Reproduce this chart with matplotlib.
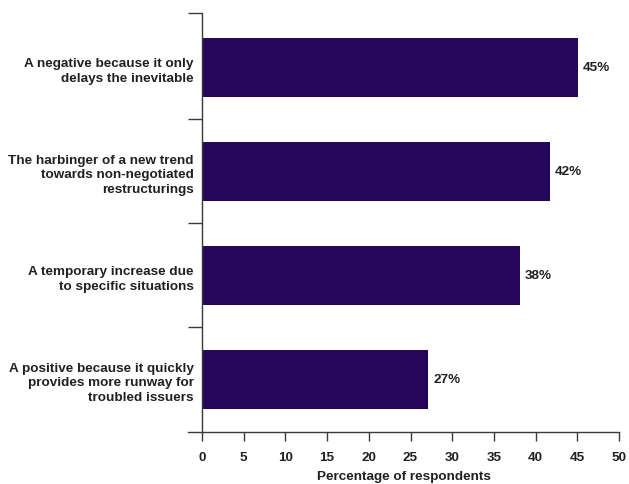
import matplotlib.pyplot as plt

plt.rcParams['font.family'] = ['Liberation Sans', 'DejaVu Sans']

# data (top to bottom)
categories = [
    "A negative because it only\ndelays the inevitable",
    "The harbinger of a new trend\ntowards non-negotiated\nrestructurings",
    "A temporary increase due\nto specific situations",
    "A positive because it quickly\nprovides more runway for\ntroubled issuers",
]
values = [45.1, 41.7, 38.1, 27.1]
value_labels = ["45%", "42%", "38%", "27%"]
xticks = [0, 5, 10, 15, 20, 25, 30, 35, 40, 45, 50]

bar_color = '#24075a'
text_color = '#231f20'
line_color = '#3a3a3a'
fs = 9.7

fig = plt.figure(figsize=(6.29, 4.85), dpi=100)
ax = fig.add_axes([188 / 629, 1 - 433 / 485, (619 - 188) / 629, (433 - 13.7) / 485])

n = len(categories)
ypos = list(range(n - 1, -1, -1))
ax.barh(ypos, values, height=0.565, color=bar_color, zorder=2)

for y, v, lab in zip(ypos, values, value_labels):
    ax.text(v + 0.6, y, lab, va='center', ha='left', fontsize=fs,
            fontweight='bold', color=text_color)

ax.set_xlim(-1.68, 50)
ax.set_ylim(-0.505, n - 0.475)

ax.spines['top'].set_visible(False)
ax.spines['right'].set_visible(False)
ax.spines['left'].set_position(('data', 0))
for s in ('left', 'bottom'):
    ax.spines[s].set_color(line_color)
    ax.spines[s].set_linewidth(1.0)

# y: labels at centers, ticks at category boundaries
ax.set_yticks(ypos)
ax.set_yticklabels(categories, fontsize=fs, fontweight='bold', color=text_color,
                   linespacing=1.3)
ax.tick_params(axis='y', which='major', length=0, pad=6)
ax.set_yticks([i - 0.5 for i in range(1, n)] + [n - 0.475], minor=True)
ax.tick_params(axis='y', which='minor', length=10, width=1.0, color=line_color)

ax.set_xticks(xticks)
ax.set_xticklabels([str(t) for t in xticks], fontsize=fs, fontweight='bold',
                   color=text_color)
ax.tick_params(axis='x', length=6.5, width=1.0, color=line_color, pad=7)
ax.set_xlabel('Percentage of respondents', fontsize=fs, fontweight='bold',
              color=text_color, labelpad=5)

fig.savefig('out.png', dpi=100)
